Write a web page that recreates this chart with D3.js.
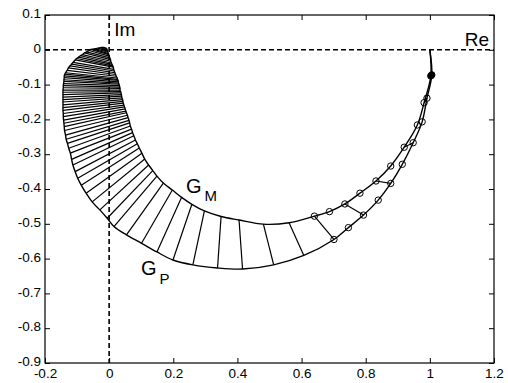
<!DOCTYPE html>
<html>
<head>
<meta charset="utf-8">
<script src="https://cdn.jsdelivr.net/npm/d3@7/dist/d3.min.js"></script>
<style>
  body { margin: 0; background: #fff; }
  svg { display: block; font-family: "Liberation Sans", Arial, sans-serif; }
</style>
</head>
<body>
<svg id="chart" width="508" height="383"></svg>
<script>
const xTicks = [-0.2, 0, 0.2, 0.4, 0.6, 0.8, 1, 1.2];
const yTicks = [0.1, 0, -0.1, -0.2, -0.3, -0.4, -0.5, -0.6, -0.7, -0.8, -0.9];
const xTickLabels = ['-0.2', '0', '0.2', '0.4', '0.6', '0.8', '1', '1.2'];
const yTickLabels = ['0.1', '0', '-0.1', '-0.2', '-0.3', '-0.4', '-0.5', '-0.6', '-0.7', '-0.8', '-0.9'];

// plant G_P, same frequency points as the model below
const gpRe = [1.000, 1.006, 0.991, 0.976, 0.948, 0.914, 0.878, 0.839, 0.793, 0.746, 0.701,
  0.607, 0.513, 0.416, 0.338, 0.261, 0.199, 0.149, 0.101, 0.054,
  0.015, -0.006, -0.029, -0.053, -0.072, -0.087, -0.098, -0.106, -0.113, -0.117,
  -0.121, -0.126, -0.130, -0.134, -0.136, -0.139, -0.140, -0.141, -0.142, -0.143,
  -0.143, -0.144, -0.144, -0.144, -0.144, -0.144, -0.144, -0.144, -0.144, -0.144,
  -0.143, -0.143, -0.142, -0.141, -0.141, -0.140, -0.140, -0.138, -0.136,
  -0.131, -0.127, -0.122, -0.117, -0.112, -0.106, -0.101, -0.095, -0.089, -0.083,
  -0.077, -0.070, -0.063, -0.057, -0.049, -0.042, -0.035, -0.027, -0.021,
  -0.016];
const gpIm = [0.000, -0.072, -0.139, -0.207, -0.267, -0.329, -0.384, -0.432, -0.475, -0.511, -0.545,
  -0.591, -0.618, -0.630, -0.627, -0.618, -0.604, -0.581, -0.556, -0.532,
  -0.508, -0.484, -0.460, -0.437, -0.412, -0.389, -0.369, -0.350, -0.331, -0.315,
  -0.297, -0.283, -0.269, -0.257, -0.245, -0.232, -0.221, -0.211, -0.202, -0.192,
  -0.183, -0.174, -0.166, -0.158, -0.150, -0.143, -0.136, -0.129, -0.122, -0.116,
  -0.109, -0.103, -0.097, -0.091, -0.086, -0.080, -0.075, -0.070, -0.066,
  -0.059, -0.052, -0.046, -0.041, -0.036, -0.029, -0.025, -0.021, -0.017, -0.014,
  -0.009, -0.006, -0.002, 0.001, 0.002, 0.003, 0.005, 0.006, 0.007,
  0.007];

// model G_M
const gmRe = [1.000, 1.003, 0.982, 0.961, 0.920, 0.878, 0.832, 0.782, 0.735, 0.687, 0.640,
  0.561, 0.481, 0.405, 0.349, 0.297, 0.258, 0.226, 0.197, 0.169,
  0.149, 0.136, 0.123, 0.111, 0.102, 0.094, 0.088, 0.082, 0.077, 0.073,
  0.070, 0.066, 0.064, 0.062, 0.059, 0.057, 0.054, 0.052, 0.050, 0.048,
  0.046, 0.044, 0.043, 0.042, 0.040, 0.039, 0.038, 0.037, 0.036, 0.034,
  0.034, 0.033, 0.032, 0.031, 0.029, 0.029, 0.028, 0.026, 0.025,
  0.022, 0.020, 0.018, 0.016, 0.014, 0.013, 0.011, 0.009, 0.007, 0.005,
  0.004, 0.002, 0.000, -0.001, -0.002, -0.004, -0.005, -0.006, -0.007,
  -0.011];
const gmIm = [0.000, -0.075, -0.152, -0.216, -0.280, -0.334, -0.377, -0.412, -0.443, -0.465, -0.478,
  -0.497, -0.501, -0.489, -0.479, -0.463, -0.444, -0.424, -0.403, -0.383,
  -0.363, -0.347, -0.331, -0.314, -0.297, -0.282, -0.270, -0.259, -0.247, -0.238,
  -0.228, -0.219, -0.210, -0.203, -0.195, -0.188, -0.181, -0.176, -0.170, -0.164,
  -0.159, -0.153, -0.148, -0.143, -0.138, -0.133, -0.129, -0.124, -0.120, -0.116,
  -0.111, -0.107, -0.103, -0.099, -0.096, -0.092, -0.088, -0.085, -0.081,
  -0.076, -0.071, -0.066, -0.061, -0.056, -0.050, -0.046, -0.042, -0.038, -0.033,
  -0.028, -0.023, -0.018, -0.014, -0.011, -0.007, -0.004, -0.001, 0.002,
  0.006];

// which points get a circle, which are filled, which get a connecting line
const circleIdx = [1, 2, 3, 4, 5, 6, 7, 8, 9, 10];
const filledIdx = [1];
const sparseRungs = [2, 4, 6, 8, 10];
const denseFrom = 11;

const width = 508, height = 383;
const margin = { top: 15, right: 14, bottom: 20, left: 45 };

const svg = d3.select('#chart');

const x = d3.scaleLinear().domain([-0.2, 1.2]).range([margin.left, width - margin.right]);
const y = d3.scaleLinear().domain([-0.9, 0.1]).range([height - margin.bottom, margin.top]);

const gp = gpRe.map((r, i) => [r, gpIm[i]]);
const gm = gmRe.map((r, i) => [r, gmIm[i]]);

// axes, ticks inward on all four sides
const tickLen = 5;
svg.append('g')
  .attr('transform', `translate(0,${y(-0.9)})`)
  .call(d3.axisBottom(x).tickValues(xTicks).tickSize(-tickLen).tickPadding(5)
    .tickFormat((d, i) => xTickLabels[i]))
  .call(g => g.select('.domain').remove());
svg.append('g')
  .attr('transform', `translate(0,${y(0.1)})`)
  .call(d3.axisTop(x).tickValues(xTicks).tickSize(-tickLen).tickFormat(''))
  .call(g => g.select('.domain').remove());
svg.append('g')
  .attr('transform', `translate(${x(-0.2)},0)`)
  .call(d3.axisLeft(y).tickValues(yTicks).tickSize(-tickLen).tickPadding(4)
    .tickFormat((d, i) => yTickLabels[i]))
  .call(g => g.select('.domain').remove())
  .call(g => g.selectAll('.tick text').attr('dy', '0.2em'));
svg.append('g')
  .attr('transform', `translate(${x(1.2)},0)`)
  .call(d3.axisRight(y).tickValues(yTicks).tickSize(-tickLen).tickFormat(''))
  .call(g => g.select('.domain').remove());

svg.selectAll('.tick text')
  .style('font-size', '13.5px')
  .style('fill', '#000');
svg.selectAll('.tick line').attr('stroke', '#000');

// frame
svg.append('rect')
  .attr('x', x(-0.2)).attr('y', y(0.1))
  .attr('width', x(1.2) - x(-0.2)).attr('height', y(-0.9) - y(0.1))
  .attr('fill', 'none').attr('stroke', '#000').attr('stroke-width', 1.2);

// dashed Re / Im axes
svg.append('line')
  .attr('x1', x(-0.2)).attr('x2', x(1.2)).attr('y1', y(0)).attr('y2', y(0))
  .attr('stroke', '#000').attr('stroke-width', 1.6).attr('stroke-dasharray', '5,3');
svg.append('line')
  .attr('x1', x(0)).attr('x2', x(0)).attr('y1', y(0.1)).attr('y2', y(-0.9))
  .attr('stroke', '#000').attr('stroke-width', 1.6).attr('stroke-dasharray', '5,3');

// connecting lines between G_P and G_M at equal frequency
const rungs = sparseRungs.concat(d3.range(denseFrom, gp.length));
svg.append('g')
  .selectAll('line')
  .data(rungs)
  .enter().append('line')
  .attr('x1', i => x(gp[i][0])).attr('y1', i => y(gp[i][1]))
  .attr('x2', i => x(gm[i][0])).attr('y2', i => y(gm[i][1]))
  .attr('stroke', '#000').attr('stroke-width', 1.2);

const line = d3.line()
  .x(d => x(d[0]))
  .y(d => y(d[1]))
  .curve(d3.curveCatmullRom.alpha(0.5));

[gp, gm].forEach(pts => {
  svg.append('path')
    .attr('d', line(pts))
    .attr('fill', 'none')
    .attr('stroke', '#000')
    .attr('stroke-width', 1.4);
});

// circle markers on the low-frequency part
[gp, gm].forEach(pts => {
  svg.append('g')
    .selectAll('circle')
    .data(circleIdx)
    .enter().append('circle')
    .attr('cx', i => x(pts[i][0]))
    .attr('cy', i => y(pts[i][1]))
    .attr('r', 3.2)
    .attr('fill', i => filledIdx.includes(i) ? '#000' : 'none')
    .attr('stroke', '#000')
    .attr('stroke-width', 1);
});

// labels
svg.append('text').attr('x', x(0) + 5).attr('y', 36)
  .style('font-size', '19px').text('Im');
svg.append('text').attr('x', x(1.2) - 5).attr('y', 46)
  .attr('text-anchor', 'end').style('font-size', '19px').text('Re');

const gmLabel = svg.append('text').attr('x', 186).attr('y', 193).style('font-size', '20px');
gmLabel.append('tspan').text('G');
gmLabel.append('tspan').attr('dx', 3).attr('dy', 8).style('font-size', '15px').text('M');

const gpLabel = svg.append('text').attr('x', 141).attr('y', 275).style('font-size', '20px');
gpLabel.append('tspan').text('G');
gpLabel.append('tspan').attr('dx', 3).attr('dy', 9).style('font-size', '15px').text('P');
</script>
</body>
</html>
